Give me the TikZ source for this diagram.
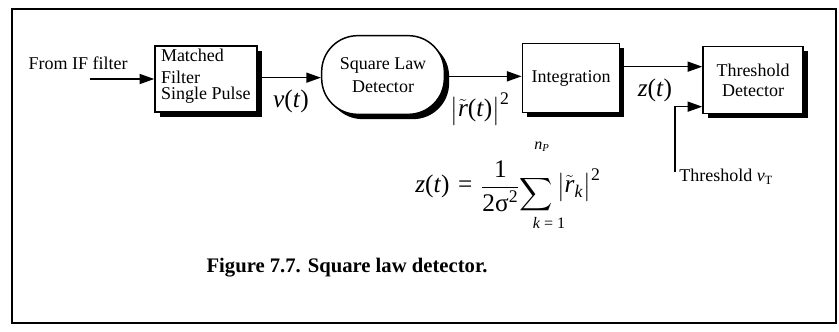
\documentclass[tikz,border=0pt]{standalone}
\usepackage{amsmath}
\usepackage{fontspec}
\setmainfont{Liberation Serif}
\usepackage{tikz}
\usetikzlibrary{arrows.meta,positioning,shadows}
\newcommand{\ital}[1]{\textit{#1}}
\newcommand{\rtil}{\ensuremath{\tilde{\text{\ital{r}}}}}
\tikzset{
  blk/.style={draw, line width=1.1pt, fill=white, align=center, inner sep=2pt,
    font=\fontsize{13.5}{15}\selectfont,
    drop shadow={shadow xshift=3.6pt, shadow yshift=-3.6pt, fill=black, opacity=1}},
  rblk/.style={blk, rounded corners=27pt, minimum width=92pt, minimum height=59pt,
    font=\fontsize{13.5}{17}\selectfont},
  lbl/.style={inner sep=0pt, font=\fontsize{13.5}{15}\selectfont},
  mlbl/.style={inner sep=0pt, font=\fontsize{19}{21}\selectfont},
  arr/.style={-{Triangle[length=11pt,width=7.5pt]}, line width=1.2pt},
  frame/.style={line width=2pt}
}
\begin{document}
\begin{tikzpicture}[x=0.75pt,y=-0.75pt]
  \useasboundingbox (0,0) rectangle (839,332);
  \draw[frame] (12,9) rectangle (836,323);

  % blocks
  \node[blk, minimum width=76.5pt, minimum height=49.5pt, inner xsep=4.5pt] (mfilter) at (206,79)
    {\parbox[c][45.5pt][t]{67.5pt}{\raggedright\fontsize{13.5}{11.5}\selectfont
      Matched\\[5.5pt]Filter\\Single Pulse}};
  \node[rblk] (sqlaw) at (383,75) {Square Law\\Detector};
  \node[blk, minimum width=73pt, minimum height=52pt] (integ) at (571,78) {Integration};
  \node[blk, minimum width=75pt, minimum height=50pt] (thresh) at (753,80) {Threshold\\Detector};

  \coordinate (ifin) at (90,79);
  \coordinate (thrin) at (675,172);

  \draw[arr] (ifin) -- (mfilter);
  \draw[arr] ([yshift=1pt]mfilter.east) -- ([yshift=1pt]mfilter.east -| sqlaw.west);
  \draw[arr] ([yshift=-1pt]sqlaw.east) -- ([yshift=-1pt]sqlaw.east -| integ.west);
  \draw[arr] ([yshift=8.5pt]integ.east) -- ([yshift=8.5pt]integ.east -| thresh.west);
  \draw[arr] (thrin) |- ([yshift=-20pt]thresh.west);

  % labels
  \node[lbl] (from) at (78,63) {From IF filter};
  \node[mlbl] (vt) at (291,101) {\ital{v}(\ital{t})};
  \node[mlbl] (rt) at (480,109) {$\bigl|\rtil\text{(\ital{t})}\bigr|^{\text{2}}$};
  \node[mlbl] (zt) at (655,90) {\ital{z}(\ital{t})};
  \node[lbl, anchor=west] (thr) at (679,177) {Threshold $\text{\ital{v}}_{\text{T}}$};

  % equation
  \node[inner sep=0pt, font=\fontsize{12}{12}\selectfont] (np) at (542,147) {$\text{\ital{n}}_{\text{\ital{P}}}$};
  \node[mlbl] (eq) at (508,187)
    {\ital{z}(\ital{t})\,\,=\,\,$\dfrac{\text{1}}{\text{2σ}^{\text{2}}}\raisebox{-6pt}{$\displaystyle\sum$}\,\bigl|\rtil_{\text{\ital{k}}}\bigr|^{\text{2}}$};
  \node[inner sep=0pt, font=\fontsize{12}{12}\selectfont] (klim) at (549,223) {\ital{k} = 1};

  \node[inner sep=0pt, font=\bfseries\fontsize{15.5}{16}\selectfont] (cap) at (347,268)
    {Figure 7.7. Square law detector.};
\end{tikzpicture}
\end{document}
